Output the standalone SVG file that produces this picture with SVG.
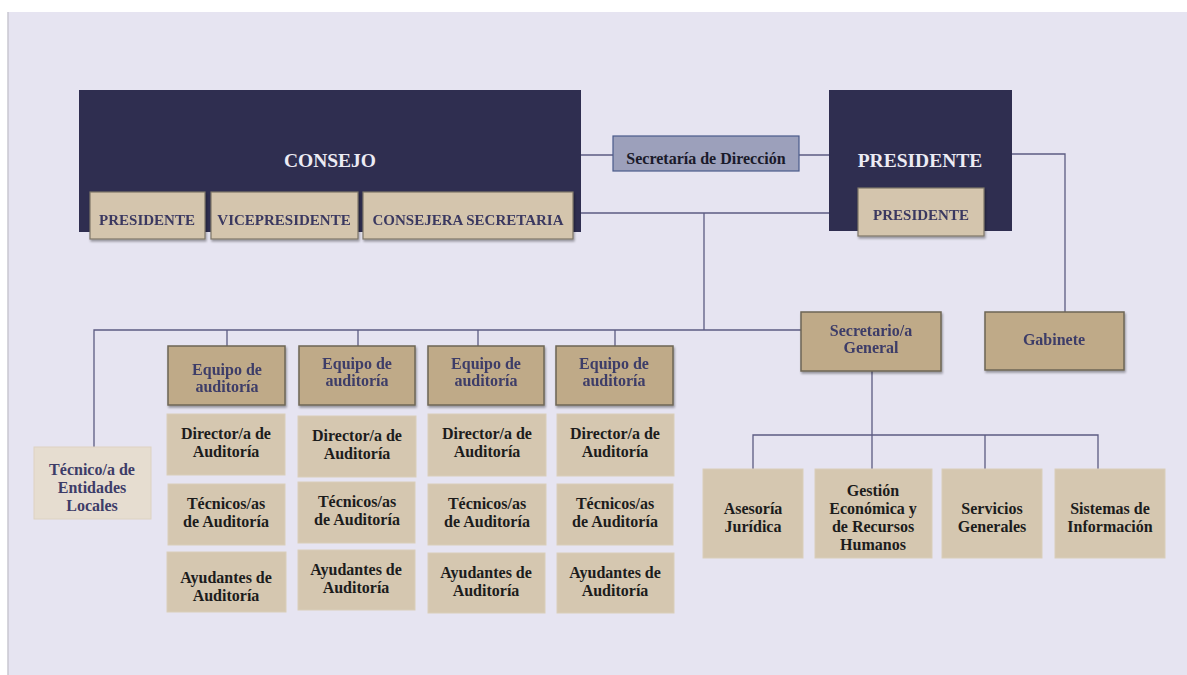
<svg xmlns="http://www.w3.org/2000/svg" width="1187" height="675" viewBox="0 0 1187 675">
<defs>
<style>
text{font-family:"Liberation Serif","Times New Roman",serif;font-weight:bold;text-anchor:middle}
.big{fill:#2f2e50}
.bt{fill:#ecebf4;font-size:19.5px}
.sub{fill:#d4c5ad;stroke:#7d7668;stroke-width:1.2}
.st{fill:#3a3960;font-size:15px}
.eq{fill:#bfaa88;stroke:#6e6656;stroke-width:1.5}
.et{fill:#3d3c68;font-size:16px}
.cell{fill:#d5c7b0;stroke:#d9ceba;stroke-width:1}
.ct{fill:#1c1c1c;font-size:16px}
.c{fill:none;stroke:#5c5b82;stroke-width:1.3}
</style>
<filter id="sh" x="-10%" y="-10%" width="130%" height="140%">
<feDropShadow dx="1" dy="2" stdDeviation="1" flood-color="#000" flood-opacity="0.35"/>
</filter>
</defs>
<rect x="0" y="0" width="1187" height="675" fill="#ffffff"/>
<rect x="8" y="12" width="1179" height="663" fill="#e6e4f1"/>
<line x1="8" y1="12" x2="8" y2="675" stroke="#c8c7d0" stroke-width="1.5"/>

<g id="connectors">
<path class="c" d="M581 155H613M799 155H829"/>
<path class="c" d="M1012 154H1065V312"/>
<path class="c" d="M581 213H829M704 213V330"/>
<path class="c" d="M94 447V330H801"/>
<path class="c" d="M227 330V346M358 330V346M478 330V346M615 330V346"/>
<path class="c" d="M872 371V469M753 469V435H1098V469M985 435V469"/>
</g>

<g id="consejo">
<rect class="big" x="79" y="90" width="502" height="142"/>
<text class="bt" x="330" y="167">CONSEJO</text>
</g>
<g id="consejo-presidente" filter="url(#sh)">
<rect class="sub" x="90" y="192" width="115" height="47"/>
<text class="st" x="147" y="225">PRESIDENTE</text>
</g>
<g id="consejo-vicepresidente" filter="url(#sh)">
<rect class="sub" x="211" y="192" width="147" height="47"/>
<text class="st" x="284" y="225">VICEPRESIDENTE</text>
</g>
<g id="consejo-secretaria" filter="url(#sh)">
<rect class="sub" x="363" y="192" width="210" height="47"/>
<text class="st" x="468" y="225">CONSEJERA SECRETARIA</text>
</g>

<g id="secretaria-direccion">
<rect x="613" y="136" width="186" height="35" fill="#9ca0bb" stroke="#4a5a8a" stroke-width="1.2"/>
<text x="706" y="164" style="fill:#1a1a2a;font-size:16px">Secretaría de Dirección</text>
</g>

<g id="presidente">
<rect class="big" x="829" y="90" width="183" height="141"/>
<text class="bt" x="920" y="167">PRESIDENTE</text>
</g>
<g id="presidente-sub" filter="url(#sh)">
<rect class="sub" x="858" y="188" width="126" height="48"/>
<text class="st" x="921" y="220">PRESIDENTE</text>
</g>

<g id="gabinete" filter="url(#sh)">
<rect class="eq" x="985" y="312" width="139" height="58"/>
<text class="et" x="1054" y="345">Gabinete</text>
</g>
<g id="secretario-general" filter="url(#sh)">
<rect class="eq" x="801" y="312" width="140" height="59"/>
<text class="et" x="871" y="336">Secretario/a</text>
<text class="et" x="871" y="353">General</text>
</g>

<g id="tecnico-entidades">
<rect x="34" y="447" width="117" height="72" fill="#e6ddd0" stroke="#ddd2c2"/>
<text class="et" x="92" y="475">Técnico/a de</text>
<text class="et" x="92" y="493">Entidades</text>
<text class="et" x="92" y="511">Locales</text>
</g>

<g id="equipo-1" filter="url(#sh)">
<rect class="eq" x="168" y="346" width="117" height="59"/>
<text class="et" x="227" y="375">Equipo de</text>
<text class="et" x="227" y="392">auditoría</text>
</g>
<g id="equipo-2" filter="url(#sh)">
<rect class="eq" x="299" y="346" width="116" height="59"/>
<text class="et" x="357" y="369">Equipo de</text>
<text class="et" x="357" y="386">auditoría</text>
</g>
<g id="equipo-3" filter="url(#sh)">
<rect class="eq" x="428" y="346" width="116" height="59"/>
<text class="et" x="486" y="369">Equipo de</text>
<text class="et" x="486" y="386">auditoría</text>
</g>
<g id="equipo-4" filter="url(#sh)">
<rect class="eq" x="556" y="346" width="117" height="59"/>
<text class="et" x="614" y="369">Equipo de</text>
<text class="et" x="614" y="386">auditoría</text>
</g>

<g id="director-1"><rect class="cell" x="167" y="414" width="118" height="61"/><text class="ct" x="226" y="439">Director/a de</text><text class="ct" x="226" y="457">Auditoría</text></g>
<g id="director-2"><rect class="cell" x="298" y="416" width="118" height="61"/><text class="ct" x="357" y="441">Director/a de</text><text class="ct" x="357" y="459">Auditoría</text></g>
<g id="director-3"><rect class="cell" x="428" y="414" width="118" height="62"/><text class="ct" x="487" y="439">Director/a de</text><text class="ct" x="487" y="457">Auditoría</text></g>
<g id="director-4"><rect class="cell" x="557" y="414" width="117" height="62"/><text class="ct" x="615" y="439">Director/a de</text><text class="ct" x="615" y="457">Auditoría</text></g>

<g id="tecnicos-1"><rect class="cell" x="168" y="484" width="117" height="61"/><text class="ct" x="226" y="509">Técnicos/as</text><text class="ct" x="226" y="527">de Auditoría</text></g>
<g id="tecnicos-2"><rect class="cell" x="298" y="482" width="117" height="61"/><text class="ct" x="357" y="507">Técnicos/as</text><text class="ct" x="357" y="525">de Auditoría</text></g>
<g id="tecnicos-3"><rect class="cell" x="428" y="484" width="118" height="61"/><text class="ct" x="487" y="509">Técnicos/as</text><text class="ct" x="487" y="527">de Auditoría</text></g>
<g id="tecnicos-4"><rect class="cell" x="557" y="484" width="116" height="61"/><text class="ct" x="615" y="509">Técnicos/as</text><text class="ct" x="615" y="527">de Auditoría</text></g>

<g id="ayudantes-1"><rect class="cell" x="167" y="552" width="119" height="60"/><text class="ct" x="226" y="583">Ayudantes de</text><text class="ct" x="226" y="601">Auditoría</text></g>
<g id="ayudantes-2"><rect class="cell" x="298" y="550" width="117" height="60"/><text class="ct" x="356" y="575">Ayudantes de</text><text class="ct" x="356" y="593">Auditoría</text></g>
<g id="ayudantes-3"><rect class="cell" x="428" y="553" width="117" height="60"/><text class="ct" x="486" y="578">Ayudantes de</text><text class="ct" x="486" y="596">Auditoría</text></g>
<g id="ayudantes-4"><rect class="cell" x="557" y="553" width="117" height="60"/><text class="ct" x="615" y="578">Ayudantes de</text><text class="ct" x="615" y="596">Auditoría</text></g>

<g id="asesoria"><rect class="cell" x="703" y="469" width="100" height="89"/><text class="ct" x="753" y="514">Asesoría</text><text class="ct" x="753" y="532">Jurídica</text></g>
<g id="gestion"><rect class="cell" x="815" y="469" width="117" height="89"/><text class="ct" x="873" y="496">Gestión</text><text class="ct" x="873" y="514">Económica y</text><text class="ct" x="873" y="532">de Recursos</text><text class="ct" x="873" y="550">Humanos</text></g>
<g id="servicios"><rect class="cell" x="942" y="469" width="100" height="89"/><text class="ct" x="992" y="514">Servicios</text><text class="ct" x="992" y="532">Generales</text></g>
<g id="sistemas"><rect class="cell" x="1055" y="469" width="110" height="89"/><text class="ct" x="1110" y="514">Sistemas de</text><text class="ct" x="1110" y="532">Información</text></g>
</svg>
